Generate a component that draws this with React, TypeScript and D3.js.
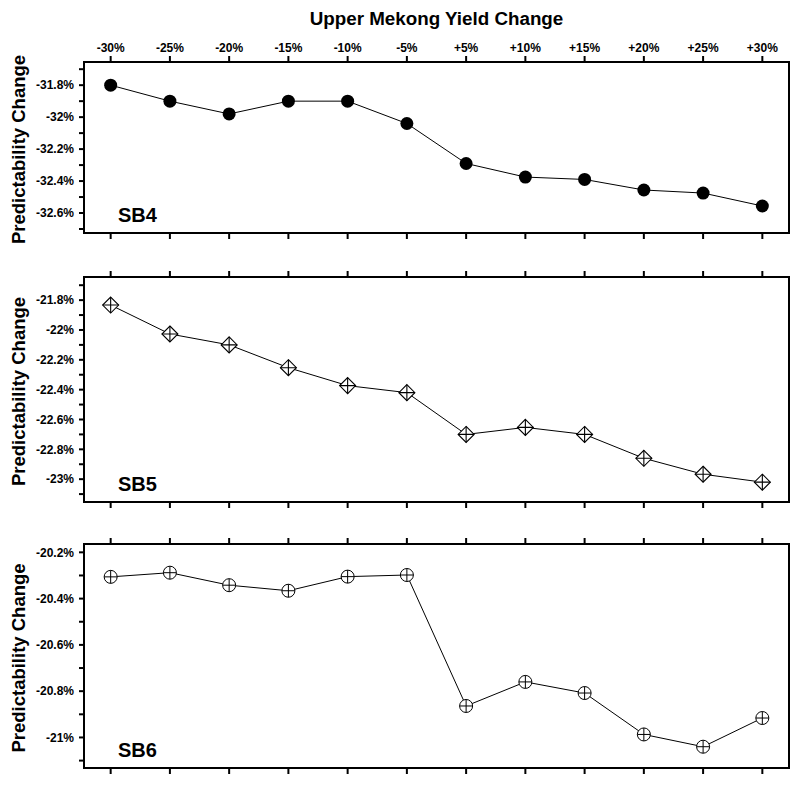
import * as d3 from 'd3';

// Data
const yieldChanges = ['-30%', '-25%', '-20%', '-15%', '-10%', '-5%', '+5%', '+10%', '+15%', '+20%', '+25%', '+30%'];
const sb4Values = [-31.8, -31.9, -31.98, -31.9, -31.9, -32.04, -32.29, -32.375, -32.39, -32.456, -32.475, -32.556];
const sb5Values = [-21.833, -22.027, -22.1, -22.253, -22.373, -22.42, -22.7, -22.653, -22.7, -22.86, -22.967, -23.02];
const sb6Values = [-20.306, -20.288, -20.342, -20.366, -20.305, -20.298, -20.864, -20.76, -20.808, -20.987, -21.04, -20.916];

type Marker = 'dot' | 'diamond' | 'circlePlus';

const panels: { name: string; values: number[]; domain: [number, number]; top: number; bottom: number; marker: Marker }[] = [
  { name: 'SB4', values: sb4Values, domain: [-32.725, -31.655], top: 62, bottom: 233, marker: 'dot' },
  { name: 'SB5', values: sb5Values, domain: [-23.153, -21.645], top: 277, bottom: 502, marker: 'diamond' },
  { name: 'SB6', values: sb6Values, domain: [-21.132, -20.164], top: 544, bottom: 768, marker: 'circlePlus' },
];

const WIDTH = 800;
const HEIGHT = 800;
const LEFT = 84;
const RIGHT = 789;
const FONT = '"Liberation Sans", Arial, sans-serif';

const xScale = d3.scalePoint<string>().domain(yieldChanges).range([LEFT, RIGHT]).padding(0.45);

const fmt = (v: number) => `${+v.toFixed(1)}%`;

function MarkerShape({ type, x, y }: { type: Marker; x: number; y: number }) {
  if (type === 'dot') {
    return <circle cx={x} cy={y} r={6.5} fill="#000" />;
  }
  if (type === 'diamond') {
    const s = 8;
    return (
      <g stroke="#000" strokeWidth={1.1}>
        <path d={`M${x},${y - s}L${x + s},${y}L${x},${y + s}L${x - s},${y}Z`} fill="#fff" />
        <path d={`M${x - s},${y}H${x + s}M${x},${y - s}V${y + s}`} fill="none" />
      </g>
    );
  }
  const r = 6.5;
  return (
    <g stroke="#000" strokeWidth={1}>
      <circle cx={x} cy={y} r={r} fill="#fff" />
      <path d={`M${x - r},${y}H${x + r}M${x},${y - r}V${y + r}`} fill="none" />
    </g>
  );
}

function Panel({ panel, showTopLabels }: { panel: typeof panels[number]; showTopLabels: boolean }) {
  const yScale = d3.scaleLinear().domain(panel.domain).range([panel.bottom, panel.top]);
  const lo = Math.ceil(panel.domain[0] * 10);
  const hi = Math.floor(panel.domain[1] * 10);
  const ticks = d3.range(lo, hi + 1).map((t) => ({ v: t / 10, major: Math.abs(t) % 2 === 0 }));
  const line = d3
    .line<number>()
    .x((_, i) => xScale(yieldChanges[i]) as number)
    .y((d) => yScale(d));

  return (
    <g>
      {/* x ticks top & bottom */}
      {yieldChanges.map((c) => {
        const x = xScale(c) as number;
        return (
          <g key={c} stroke="#000" strokeWidth={2}>
            <line x1={x} x2={x} y1={panel.top - 6} y2={panel.top} />
            <line x1={x} x2={x} y1={panel.bottom} y2={panel.bottom + 6} />
          </g>
        );
      })}
      {showTopLabels &&
        yieldChanges.map((c) => (
          <text
            key={c}
            x={xScale(c)}
            y={panel.top - 10}
            textAnchor="middle"
            fontFamily={FONT}
            fontWeight="bold"
            fontSize={12}
          >
            {c}
          </text>
        ))}
      {/* y ticks */}
      {ticks.map((t) => {
        const y = yScale(t.v);
        return (
          <g key={t.v}>
            <line x1={LEFT - 5} x2={LEFT} y1={y} y2={y} stroke="#000" strokeWidth={2} />
            {t.major && (
              <text
                x={LEFT - 10}
                y={y}
                dy="0.35em"
                textAnchor="end"
                fontFamily={FONT}
                fontWeight="bold"
                fontSize={12}
              >
                {fmt(t.v)}
              </text>
            )}
          </g>
        );
      })}
      <rect
        x={LEFT}
        y={panel.top}
        width={RIGHT - LEFT}
        height={panel.bottom - panel.top}
        fill="none"
        stroke="#000"
        strokeWidth={2}
      />
      <text
        transform={`translate(25,${(panel.top + panel.bottom) / 2 + 2}) rotate(-90)`}
        textAnchor="middle"
        fontFamily={FONT}
        fontWeight="bold"
        fontSize={18.5}
      >
        Predictability Change
      </text>
      <path d={line(panel.values) ?? ''} fill="none" stroke="#000" strokeWidth={1} />
      {panel.values.map((v, i) => (
        <MarkerShape key={i} type={panel.marker} x={xScale(yieldChanges[i]) as number} y={yScale(v)} />
      ))}
      <text x={118} y={panel.bottom - 11} fontFamily={FONT} fontWeight="bold" fontSize={20}>
        {panel.name}
      </text>
    </g>
  );
}

export default function App() {
  return (
    <svg
      width={WIDTH}
      height={HEIGHT}
      style={{ position: 'absolute', left: 0, top: 0, background: '#fff' }}
    >
      <rect width={WIDTH} height={HEIGHT} fill="#fff" />
      <text
        x={(LEFT + RIGHT) / 2}
        y={25}
        textAnchor="middle"
        fontFamily={FONT}
        fontWeight="bold"
        fontSize={18.8}
      >
        Upper Mekong Yield Change
      </text>
      {panels.map((p, i) => (
        <Panel key={p.name} panel={p} showTopLabels={i === 0} />
      ))}
    </svg>
  );
}
